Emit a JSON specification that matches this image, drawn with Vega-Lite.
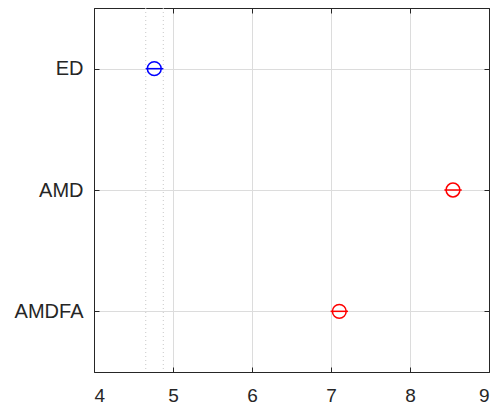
{
  "$schema": "https://vega.github.io/schema/vega-lite/v6.json",
  "autosize": "none",
  "width": 395,
  "height": 364,
  "padding": {"left": 94, "top": 8, "right": 7, "bottom": 34},
  "background": "white",
  "config": {
    "view": {"stroke": "#262626", "strokeWidth": 1},
    "axis": {
      "labelFont": "Liberation Sans",
      "labelFontSize": 19,
      "labelColor": "#262626",
      "domainColor": "#262626",
      "tickColor": "#262626",
      "gridColor": "#dcdcdc",
      "gridOpacity": 1,
      "title": null
    }
  },
  "data": {
    "values": [
      {"group": "ED", "mean": 4.763, "lo": 4.655, "hi": 4.877},
      {"group": "AMD", "mean": 8.544, "lo": 8.435, "hi": 8.655},
      {"group": "AMDFA", "mean": 7.105, "lo": 6.995, "hi": 7.215}
    ]
  },
  "resolve": {"axis": {"x": "independent", "y": "independent"}},
  "layer": [
    {
      "transform": [{"filter": "datum.group == 'ED'"}],
      "mark": {"type": "rule", "color": "#c8c8c8", "strokeDash": [1, 3], "strokeWidth": 1},
      "encoding": {
        "x": {"field": "lo", "type": "quantitative", "scale": {"domain": [4, 9], "nice": false, "zero": false},
          "axis": {"orient": "bottom", "values": [4,5,6,7,8,9], "grid": true, "tickSize": -5, "labelPadding": 19, "domain": true}}
      }
    },
    {
      "transform": [{"filter": "datum.group == 'ED'"}],
      "mark": {"type": "rule", "color": "#c8c8c8", "strokeDash": [1, 3], "strokeWidth": 1},
      "encoding": {
        "x": {"field": "hi", "type": "quantitative", "scale": {"domain": [4, 9], "nice": false, "zero": false},
          "axis": {"orient": "top", "values": [4,5,6,7,8,9], "grid": false, "labels": false, "tickSize": -5}}
      }
    },
    {
      "mark": {"type": "rule", "strokeWidth": 1.5},
      "encoding": {
        "x": {"field": "lo", "type": "quantitative", "scale": {"domain": [4, 9], "nice": false, "zero": false}, "axis": null},
        "x2": {"field": "hi"},
        "y": {"field": "group", "type": "nominal", "sort": ["ED", "AMD", "AMDFA"],
          "scale": {"type": "point", "padding": 0.5},
          "axis": {"orient": "left", "grid": true, "tickSize": -5, "labelPadding": 16, "labelFontSize": 20}},
        "color": {"field": "group", "type": "nominal", "scale": {"domain": ["ED", "AMD", "AMDFA"], "range": ["#0000ff", "#ff0000", "#ff0000"]}, "legend": null}
      }
    },
    {
      "mark": {"type": "point", "shape": "circle", "size": 190, "strokeWidth": 1.5, "filled": false, "opacity": 1},
      "encoding": {
        "x": {"field": "mean", "type": "quantitative", "scale": {"domain": [4, 9], "nice": false, "zero": false}, "axis": null},
        "y": {"field": "group", "type": "nominal", "sort": ["ED", "AMD", "AMDFA"],
          "scale": {"type": "point", "padding": 0.5},
          "axis": {"orient": "right", "grid": false, "labels": false, "tickSize": -5}},
        "color": {"field": "group", "type": "nominal", "scale": {"domain": ["ED", "AMD", "AMDFA"], "range": ["#0000ff", "#ff0000", "#ff0000"]}, "legend": null}
      }
    }
  ]
}
